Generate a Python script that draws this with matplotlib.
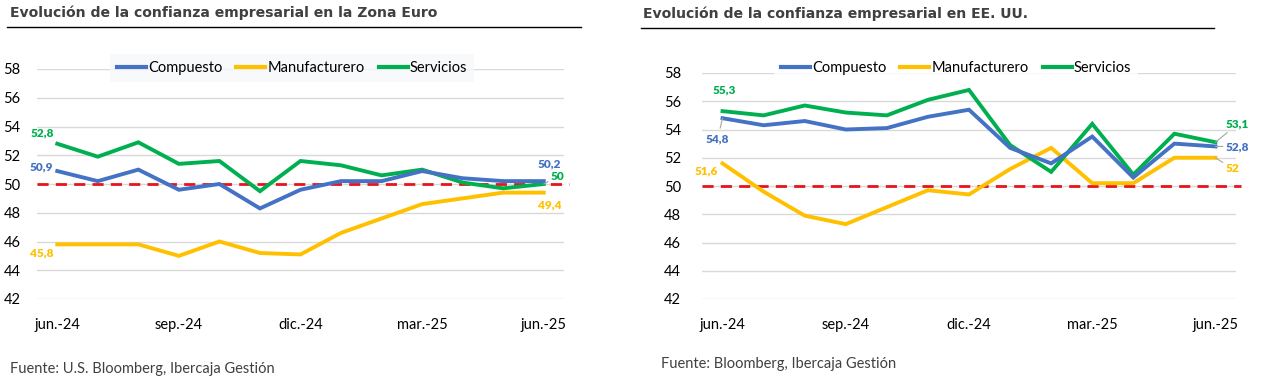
import matplotlib
matplotlib.use('Agg')
import matplotlib.pyplot as plt

# Datos PMI (jun.-24 a jun.-25)
meses = ['jun.-24', 'jul.-24', 'ago.-24', 'sep.-24', 'oct.-24', 'nov.-24', 'dic.-24',
         'ene.-25', 'feb.-25', 'mar.-25', 'abr.-25', 'may.-25', 'jun.-25']
ticks_idx = [0, 3, 6, 9, 12]

ze_compuesto = [50.9, 50.2, 51.0, 49.6, 50.0, 48.3, 49.6, 50.2, 50.2, 50.9, 50.4, 50.2, 50.2]
ze_manufacturero = [45.8, 45.8, 45.8, 45.0, 46.0, 45.2, 45.1, 46.6, 47.6, 48.6, 49.0, 49.4, 49.4]
ze_servicios = [52.8, 51.9, 52.9, 51.4, 51.6, 49.5, 51.6, 51.3, 50.6, 51.0, 50.1, 49.7, 50.0]

us_compuesto = [54.8, 54.3, 54.6, 54.0, 54.1, 54.9, 55.4, 52.7, 51.6, 53.5, 50.6, 53.0, 52.8]
us_manufacturero = [51.6, 49.6, 47.9, 47.3, 48.5, 49.7, 49.4, 51.2, 52.7, 50.2, 50.2, 52.0, 52.0]
us_servicios = [55.3, 55.0, 55.7, 55.2, 55.0, 56.1, 56.8, 52.9, 51.0, 54.4, 50.8, 53.7, 53.1]

y_ticks = [42, 44, 46, 48, 50, 52, 54, 56, 58]

AZUL = '#4472C4'
AMARILLO = '#FFC000'
VERDE = '#00B050'
ROJO = '#E8141B'
GRIS_TXT = '#404040'

plt.rcParams['font.family'] = ['Lato', 'DejaVu Sans']

W, H = 1262, 385
fig = plt.figure(figsize=(W / 100, H / 100), dpi=100)


def px_axes(x0, y0, x1, y1):
    # y0 = pixel superior, y1 = pixel inferior
    return fig.add_axes([x0 / W, 1 - y1 / H, (x1 - x0) / W, (y1 - y0) / H])


def fmt(v):
    if float(v).is_integer():
        return f'{int(v)}'
    return f'{v:.1f}'.replace('.', ',')


def draw_panel(ax, comp, manu, serv, ypad):
    x = range(len(meses))
    for y in y_ticks:
        ax.axhline(y, color='#D9D9D9', lw=1, zorder=1)
    ax.axhline(50, color=ROJO, lw=2, ls=(0, (4, 2.6)), zorder=2, xmax=1.01, clip_on=False)
    ax.plot(x, comp, color=AZUL, lw=2.8, label='Compuesto', zorder=4, solid_joinstyle='miter')
    ax.plot(x, manu, color=AMARILLO, lw=2.8, label='Manufacturero', zorder=3, solid_joinstyle='miter')
    ax.plot(x, serv, color=VERDE, lw=2.8, label='Servicios', zorder=3, solid_joinstyle='miter')
    ax.set_xlim(-0.5, len(meses) - 0.5)
    ax.set_ylim(42, 58)
    ax.set_yticks(y_ticks)
    ax.set_xticks(ticks_idx)
    ax.set_xticklabels([meses[i] for i in ticks_idx])
    ax.tick_params(axis='both', length=0, labelsize=10.5, colors='black')
    ax.tick_params(axis='y', pad=ypad)
    ax.tick_params(axis='x', pad=14)
    for s in ax.spines.values():
        s.set_visible(False)
    ax.patch.set_alpha(0)


def etiqueta(ax, i, v, color, dx, dy, leader=None):
    kw = {}
    if leader is not None:
        kw['arrowprops'] = dict(arrowstyle='-', color='#A6A6A6', lw=0.8,
                                shrinkA=leader[0], shrinkB=leader[1])
    ax.annotate(fmt(v), xy=(i, v), xytext=(dx, dy), textcoords='offset pixels',
                ha='center', va='center', fontsize=8.5, fontweight='heavy',
                color=color, zorder=6, **kw)


# Zona Euro
ax1 = px_axes(37, 69, 564, 299)
draw_panel(ax1, ze_compuesto, ze_manufacturero, ze_servicios, ypad=12)
etiqueta(ax1, 0, ze_servicios[0], VERDE, -15, 11)
etiqueta(ax1, 0, ze_compuesto[0], AZUL, -16, 4)
etiqueta(ax1, 0, ze_manufacturero[0], AMARILLO, -16, -9)
etiqueta(ax1, 12, ze_compuesto[12], AZUL, 6, 17)
etiqueta(ax1, 12, ze_servicios[12], VERDE, 14, 8, leader=(0, 6))
etiqueta(ax1, 12, ze_manufacturero[12], AMARILLO, 6, -12)

# EE. UU.
ax2 = px_axes(702, 73, 1236, 299)
draw_panel(ax2, us_compuesto, us_manufacturero, us_servicios, ypad=15)
etiqueta(ax2, 0, us_servicios[0], VERDE, 2, 21)
etiqueta(ax2, 0, us_compuesto[0], AZUL, -5, -21, leader=(2, 8))
etiqueta(ax2, 0, us_manufacturero[0], AMARILLO, -16, -8)
etiqueta(ax2, 12, us_servicios[12], VERDE, 22, 18, leader=(0, 12))
etiqueta(ax2, 12, us_compuesto[12], AZUL, 22, 0, leader=(0, 12))
etiqueta(ax2, 12, us_manufacturero[12], AMARILLO, 17, -11, leader=(0, 9))

# Leyendas
leg1 = ax1.legend(ncol=3, loc='center', bbox_to_anchor=(292 / W, 1 - 68 / H),
                  bbox_transform=fig.transFigure, fontsize=10.5, frameon=True,
                  handlelength=2.0, handletextpad=0.15, columnspacing=0.95,
                  borderpad=0.45, fancybox=False)
leg1.get_frame().set_facecolor('#F7F8FA')
leg1.get_frame().set_edgecolor('none')
for ln in leg1.get_lines():
    ln.set_linewidth(3)

leg2 = ax2.legend(ncol=3, loc='center', bbox_to_anchor=(956 / W, 1 - 68 / H),
                  bbox_transform=fig.transFigure, fontsize=10.5, frameon=True,
                  handlelength=2.0, handletextpad=0.15, columnspacing=0.95,
                  borderpad=0.45, fancybox=False)
leg2.get_frame().set_facecolor('white')
leg2.get_frame().set_edgecolor('none')
for ln in leg2.get_lines():
    ln.set_linewidth(3)

# Titulos y subrayado
fig.text(10 / W, 1 - 13 / H, 'Evolución de la confianza empresarial en la Zona Euro',
         fontsize=10.1, fontweight='bold', color=GRIS_TXT, va='center', ha='left',
         family='DejaVu Sans')
fig.text(643 / W, 1 - 14 / H, 'Evolución de la confianza empresarial en EE. UU.',
         fontsize=10.1, fontweight='bold', color=GRIS_TXT, va='center', ha='left',
         family='DejaVu Sans')
fig.add_artist(plt.Line2D([7 / W, 581 / W], [1 - 27 / H, 1 - 27 / H], color='black', lw=1))
fig.add_artist(plt.Line2D([641 / W, 1214 / W], [1 - 28 / H, 1 - 28 / H], color='black', lw=1))

# Fuentes
fig.text(10 / W, 1 - 369 / H, 'Fuente: U.S. Bloomberg, Ibercaja Gestión',
         fontsize=10.5, color=GRIS_TXT, va='center', ha='left')
fig.text(661 / W, 1 - 364 / H, 'Fuente: Bloomberg, Ibercaja Gestión',
         fontsize=10.5, color=GRIS_TXT, va='center', ha='left')

fig.savefig('out.png', dpi=100, facecolor='white')
